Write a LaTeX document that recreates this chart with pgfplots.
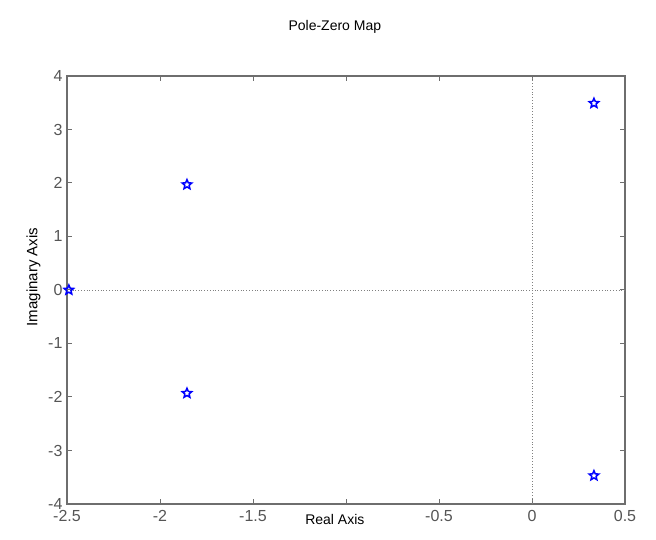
\documentclass[border=0pt]{standalone}
\usepackage{fontspec}
\setmainfont{Liberation Sans}
\usepackage{pgfplots}
\pgfplotsset{compat=1.18}

% MATLAB-like pentagram marker (outline)
\pgfdeclareplotmark{pentagram}{%
  \pgfpathmoveto{\pgfqpointpolar{90}{\pgfplotmarksize}}%
  \pgfpathlineto{\pgfqpointpolar{126}{0.45\pgfplotmarksize}}%
  \pgfpathlineto{\pgfqpointpolar{162}{\pgfplotmarksize}}%
  \pgfpathlineto{\pgfqpointpolar{198}{0.45\pgfplotmarksize}}%
  \pgfpathlineto{\pgfqpointpolar{234}{\pgfplotmarksize}}%
  \pgfpathlineto{\pgfqpointpolar{270}{0.45\pgfplotmarksize}}%
  \pgfpathlineto{\pgfqpointpolar{306}{\pgfplotmarksize}}%
  \pgfpathlineto{\pgfqpointpolar{342}{0.45\pgfplotmarksize}}%
  \pgfpathlineto{\pgfqpointpolar{18}{\pgfplotmarksize}}%
  \pgfpathlineto{\pgfqpointpolar{54}{0.45\pgfplotmarksize}}%
  \pgfpathclose
  \pgfusepathqstroke
}

\definecolor{axgray}{RGB}{110,110,110}
\definecolor{ticktext}{RGB}{85,85,85}

\begin{document}
\begin{tikzpicture}
\begin{axis}[
    scale only axis,
    width=558pt, height=428pt,
    xmin=-2.5, xmax=0.5,
    ymin=-4, ymax=4,
    xtick={-2.5,-2,-1.5,-1,-0.5,0,0.5},
    xticklabels={-2.5,-2,-1.5,,-0.5,0,0.5},
    ytick={-4,-3,-2,-1,0,1,2,3,4},
    tick align=inside,
    major tick length=5pt,
    axis line style={axgray, line width=1.2pt},
    every tick/.style={axgray, line width=1pt},
    tick label style={font=\fontsize{16}{18}\selectfont, text=ticktext},
    /pgf/number format/assume math mode=true,
    xticklabel style={yshift=-3pt},
    yticklabel style={xshift=-1pt},
    title={Pole-Zero Map},
    title style={font=\fontsize{14}{16}\selectfont, at={(axis description cs:0.48,1)}, anchor=base, yshift=39pt},
    xlabel={Real Axis},
    xlabel style={font=\fontsize{14}{16}\selectfont, at={(axis description cs:0.48,-0.037)}, anchor=center},
    ylabel={Imaginary Axis},
    ylabel style={font=\fontsize{15}{17}\selectfont, at={(axis description cs:-0.06,0.53)}, anchor=center, rotate=0},
    clip=false,
]
    % dotted lines through the origin
    \addplot[gray, dotted, line width=0.8pt, forget plot] coordinates {(-2.5,0) (0.5,0)};
    \addplot[gray, dotted, line width=0.8pt, forget plot] coordinates {(0,-4) (0,4)};

    % poles
    \addplot[only marks, mark=pentagram, mark size=5pt, blue, line width=1.5pt]
        coordinates {
            (0.333, 3.49) (0.333, -3.47)
            (-1.855, 1.97) (-1.855, -1.93)
            (-2.49, 0)
        };
\end{axis}
\path ([shift={(-67pt,-36pt)}]current axis.south west) rectangle ([shift={(31pt,76pt)}]current axis.north east);
\end{tikzpicture}
\end{document}
